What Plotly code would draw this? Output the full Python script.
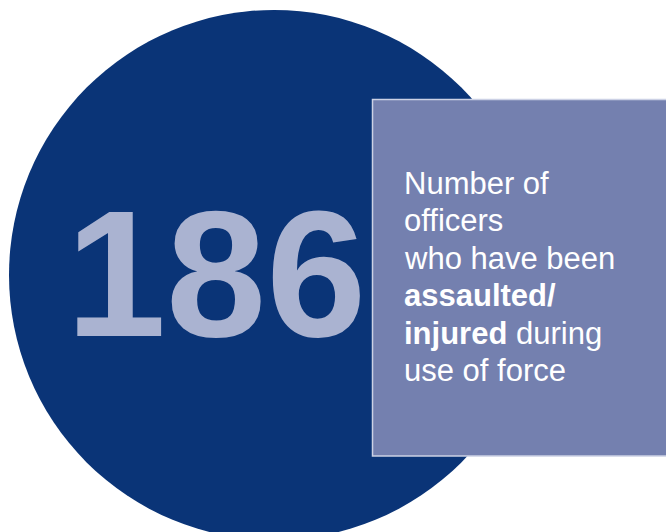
import plotly.graph_objects as go

# ---- data ----
headline_value = "186"
label_lines = [
    "Number of",
    "officers",
    "who have been",
    "<b>assaulted/</b>",
    "<b>injured</b> during",
    "use of force",
]

W, H = 666, 532
circle_color = "#0a3477"
box_color = "#7480af"
box_border = "#ccd1e5"
number_color = "#aab3d1"

fig = go.Figure()

shapes = [
    dict(type="circle", xref="x", yref="y", x0=274 - 265, x1=274 + 265,
         y0=275 - 265, y1=275 + 265, fillcolor=circle_color, line=dict(width=0),
         layer="below"),
    dict(type="rect", xref="x", yref="y", x0=372.5, x1=680, y0=99.5, y1=456,
         fillcolor=box_color, line=dict(color=box_border, width=1.5), layer="below"),
]

annotations = [
    dict(x=216, y=273, xref="x", yref="y", text=headline_value, showarrow=False,
         xanchor="center", yanchor="middle",
         font=dict(family="Liberation Sans, Arial, sans-serif",
                   size=180, color=number_color, weight="bold")),
]

first_baseline = 203
line_gap = 37.4
for i, line in enumerate(label_lines):
    annotations.append(dict(
        x=402, y=first_baseline + i * line_gap, xref="x", yref="y", text=line,
        showarrow=False, xanchor="left", yanchor="bottom",
        font=dict(family="Liberation Sans, Arial, sans-serif", size=31, color="white"),
    ))

fig.update_layout(
    width=W, height=H, autosize=False,
    margin=dict(l=0, r=0, t=0, b=0, pad=0),
    paper_bgcolor="white", plot_bgcolor="white",
    xaxis=dict(range=[0, W], visible=False, fixedrange=True),
    yaxis=dict(range=[H, 0], visible=False, fixedrange=True),
    shapes=shapes, annotations=annotations, showlegend=False,
)

fig.write_html("out.html", include_plotlyjs=True, config={"displayModeBar": False},
               post_script="document.body.style.margin='0';")
